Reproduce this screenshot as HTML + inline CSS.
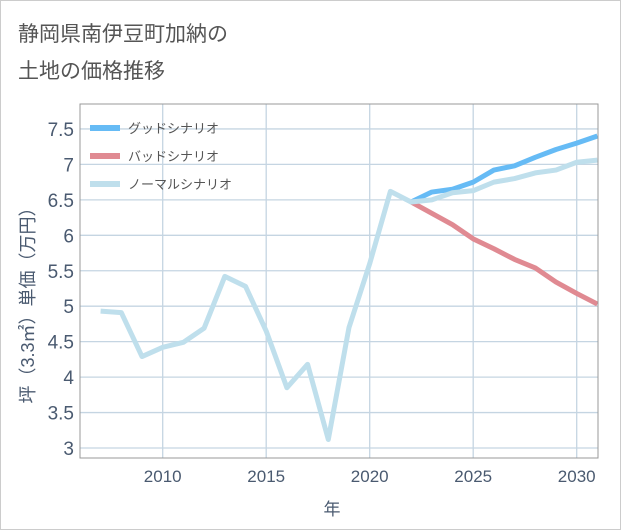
<!DOCTYPE html>
<html><head><meta charset="utf-8"><style>
body{margin:0;background:#fff;}
#wrap{position:relative;width:619px;height:528px;border:1px solid #ccc;background:#fff;font-family:"Liberation Sans","Noto Sans CJK JP",sans-serif;}
</style></head><body>
<div id="wrap">
<svg id="chart" width="619" height="528" style="position:absolute;left:0;top:0">
<text x="17" y="40" font-size="21" fill="#555" font-family="Liberation Sans, Noto Sans CJK JP, sans-serif">静岡県南伊豆町加納の</text>
<text x="17" y="77" font-size="21" fill="#555" font-family="Liberation Sans, Noto Sans CJK JP, sans-serif">土地の価格推移</text>
<g id="grid"></g><g id="series"></g><g id="axes"></g>
</svg>
</div>
<script>
const years=[2007,2008,2009,2010,2011,2012,2013,2014,2015,2016,2017,2018,2019,2020,2021,2022,2023,2024,2025,2026,2027,2028,2029,2030,2031];
const normalVals=[4.93,4.91,4.29,4.42,4.49,4.69,5.42,5.28,4.65,3.85,4.18,3.12,4.7,5.6,6.62,6.47,6.5,6.6,6.63,6.75,6.8,6.88,6.92,7.03,7.06];
const futureYears=[2022,2023,2024,2025,2026,2027,2028,2029,2030,2031];
const goodVals=[6.47,6.61,6.65,6.75,6.92,6.98,7.1,7.21,7.3,7.4];
const badVals=[6.47,6.31,6.15,5.95,5.81,5.66,5.54,5.34,5.18,5.03];
const yTicks=[3,3.5,4,4.5,5,5.5,6,6.5,7,7.5];
const yTickLabels=["3","3.5","4","4.5","5","5.5","6","6.5","7","7.5"];
const xTicks=[2010,2015,2020,2025,2030];
const NS='http://www.w3.org/2000/svg';
const L=79,R=597,T=103,B=457;
const xs=y=>161.7+(y-2010)*20.7;
const ys=v=>447-(v-3)*70.9;
function mk(tag,attrs,parent){const e=document.createElementNS(NS,tag);for(const k in attrs)e.setAttribute(k,attrs[k]);parent.appendChild(e);return e;}
const grid=document.getElementById('grid'),ser=document.getElementById('series'),ax=document.getElementById('axes');
yTicks.forEach((v,i)=>{
 const l=mk('line',{x1:L,x2:R,y1:ys(v),y2:ys(v),stroke:'#c5d5e2','stroke-width':1.3},grid);
 
 const t=mk('text',{x:73,y:ys(v)+7,'text-anchor':'end','font-size':19,fill:'#4a5a70'},ax);
 t.textContent=yTickLabels[i];
});
xTicks.forEach(v=>{
 const l=mk('line',{x1:xs(v),x2:xs(v),y1:T,y2:B,stroke:'#c5d5e2','stroke-width':1.3},grid);
 
 const t=mk('text',{x:xs(v),y:481,'text-anchor':'middle','font-size':17,fill:'#4a5a70'},ax);
 t.textContent=v;
});
const fr=mk('rect',{x:L,y:T,width:R-L,height:B-T,fill:'none',stroke:'#999','stroke-width':1},ax);

mk('clipPath',{id:'cp'},ser);
mk('rect',{x:L,y:T,width:R-L,height:B-T},document.getElementById('cp'));
function line(xsArr,vals,color,name){
 const p=mk('polyline',{points:xsArr.map((y,i)=>xs(y)+','+ys(vals[i])).join(' '),fill:'none',stroke:color,'stroke-width':5,'stroke-linejoin':'round','clip-path':'url(#cp)'},ser);
 
}
line(futureYears,badVals,'#e08a92','bad-scenario-line');
line(futureYears,goodVals,'#66bbf5','good-scenario-line');
line(years,normalVals,'#bfdfec','normal-scenario-line');
const leg=[['グッドシナリオ','#66bbf5','legend-good'],['バッドシナリオ','#e08a92','legend-bad'],['ノーマルシナリオ','#bfdfec','legend-normal']];
leg.forEach((d,i)=>{
 const y=127+i*28;
 const g=mk('g',{},ax);
 mk('rect',{x:89,y:y-3,width:30,height:6,fill:d[1]},g);
 const t=mk('text',{x:127,y:y+5,'font-size':13,fill:'#555'},g);t.textContent=d[0];
});
const yt=mk('text',{transform:'translate(33,300) rotate(-90)','text-anchor':'middle','font-size':18,fill:'#4a5a70'},ax);
yt.textContent='坪（3.3㎡）単価（万円）';
const xt=mk('text',{x:331,y:514,'text-anchor':'middle','font-size':17,fill:'#4a5a70'},ax);
xt.textContent='年';
</script>
</body></html>
